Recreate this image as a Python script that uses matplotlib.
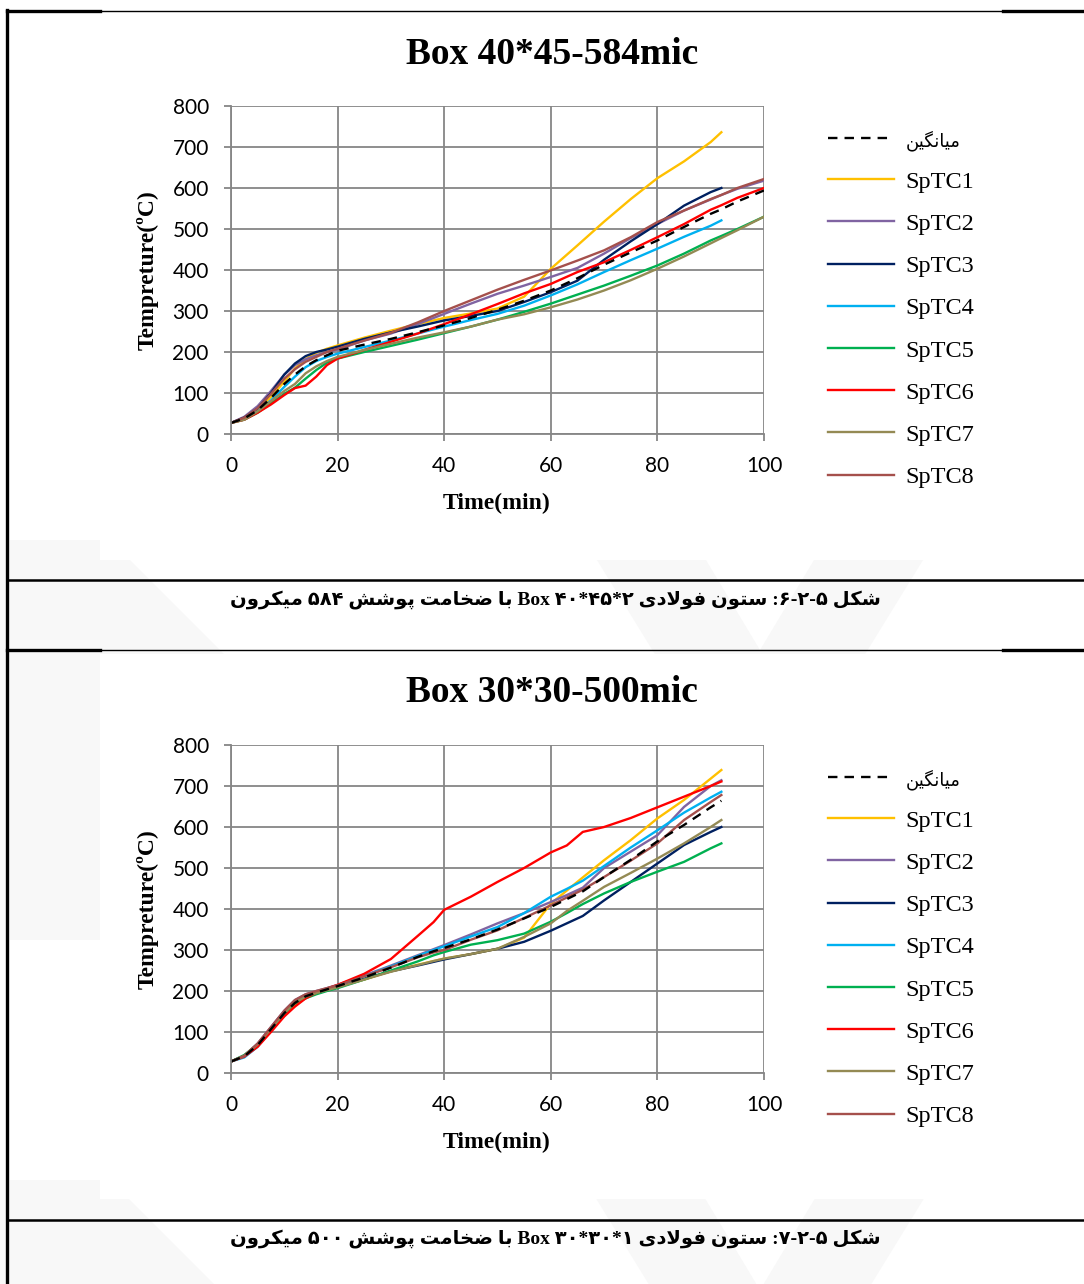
import matplotlib
matplotlib.use('Agg')
import matplotlib.pyplot as plt
from matplotlib.patches import Polygon
import numpy as np

W, H = 1084, 1284
nan = np.nan

# ---- data: chart 1 (Box 40*45-584mic) ----
t1 = [0, 2.5, 5, 7.5, 10, 12, 14, 16, 18, 20, 25, 30, 35, 40, 45, 50, 55, 60,
      65, 70, 75, 80, 85, 90, 92, 95, 100]
avg1 = [27, 38, 58, 88, 122, 145, 165, 180, 192, 203, 218, 232, 248, 265, 283, 303, 325, 350,
        380, 413, 443, 472, 505, 537, 548, 567, 594]
sptc1_1 = [27, 38, 58, 90, 128, 160, 183, 198, 208, 216, 235, 252, 268, 283, 294, 306, 335, 403,
           460, 518, 573, 624, 665, 712, 736, nan, nan]
sptc2_1 = [27, 42, 68, 105, 145, 168, 182, 192, 200, 206, 228, 245, 268, 293, 318, 342, 362, 383,
           405, 440, 478, 512, 545, 572, 583, 598, 618]
sptc3_1 = [27, 40, 62, 100, 145, 172, 190, 200, 206, 213, 232, 248, 262, 277, 288, 300, 322, 346,
           374, 425, 470, 512, 557, 590, 600, nan, nan]
sptc4_1 = [27, 36, 55, 82, 115, 140, 163, 178, 188, 196, 212, 228, 245, 262, 278, 293, 313, 338,
           365, 395, 424, 452, 481, 508, 521, nan, nan]
sptc5_1 = [27, 35, 52, 75, 98, 113, 135, 156, 174, 184, 200, 215, 230, 246, 262, 279, 298, 318,
           340, 362, 386, 411, 440, 472, 483, 500, 530]
sptc6_1 = [27, 35, 52, 72, 95, 112, 118, 140, 168, 184, 205, 225, 245, 268, 292, 317, 343, 366,
           395, 419, 449, 480, 512, 547, 558, 576, 600]
sptc7_1 = [27, 35, 55, 80, 105, 122, 148, 165, 178, 188, 205, 220, 235, 248, 262, 279, 292, 309,
           328, 350, 375, 403, 433, 465, 478, 497, 530]
sptc8_1 = [27, 40, 63, 98, 135, 158, 176, 188, 200, 208, 228, 247, 272, 300, 326, 352, 376, 399,
           423, 448, 480, 517, 545, 573, 583, 600, 622]

# ---- data: chart 2 (Box 30*30-500mic) ----
t2 = [0, 2.5, 5, 7.5, 10, 12, 14, 16, 18, 20, 25, 30, 35, 38, 40, 45, 50, 55, 60,
      63, 66, 70, 75, 80, 85, 90, 92]
avg2 = [28, 41, 68, 107, 146, 171, 187, 196, 204, 212, 233, 257, 283, 297, 305, 326, 350, 377, 405,
        424, 443, 478, 520, 565, 605, 648, 664]
sptc1_2 = [28, 40, 66, 104, 140, 165, 184, 194, 202, 210, 228, 248, 264, 273, 279, 290, 303, 330, 413,
           445, 477, 519, 568, 621, 666, 718, 739]
sptc2_2 = [28, 42, 72, 112, 152, 178, 192, 200, 207, 215, 238, 262, 287, 302, 312, 338, 365, 390, 417,
           434, 452, 500, 540, 580, 649, 700, 714]
sptc3_2 = [28, 42, 70, 110, 150, 176, 190, 197, 204, 211, 230, 248, 262, 271, 277, 290, 303, 320, 347,
           365, 383, 421, 466, 511, 556, 588, 600]
sptc4_2 = [28, 38, 64, 104, 145, 172, 188, 197, 205, 213, 236, 260, 285, 300, 309, 333, 356, 390, 430,
           449, 469, 505, 550, 592, 635, 672, 686]
sptc5_2 = [28, 44, 70, 108, 145, 170, 182, 192, 200, 207, 228, 250, 272, 287, 295, 313, 324, 340, 369,
           390, 412, 438, 466, 491, 515, 548, 560]
sptc6_2 = [28, 40, 64, 100, 138, 162, 182, 196, 206, 215, 242, 278, 334, 368, 398, 430, 466, 500, 538,
           555, 588, 600, 622, 648, 674, 700, 711]
sptc7_2 = [28, 42, 70, 108, 146, 172, 186, 195, 202, 209, 228, 247, 263, 273, 279, 290, 303, 332, 365,
           395, 420, 454, 488, 523, 560, 600, 617]
sptc8_2 = [28, 42, 72, 112, 152, 178, 192, 200, 207, 214, 236, 258, 282, 294, 300, 325, 348, 378, 409,
           428, 447, 478, 518, 560, 617, 661, 678]

series_names = ['SpTC1', 'SpTC2', 'SpTC3', 'SpTC4', 'SpTC5', 'SpTC6', 'SpTC7', 'SpTC8']
series_colors = ['#FFC000', '#8064A2', '#002060', '#00B0F0', '#00B050', '#FF0000', '#948A54', '#A5504C']
avg_label = 'میانگین'
titles = ['Box 40*45-584mic', 'Box 30*30-500mic']
# caption words in left-to-right display order
caption1 = ['میکرون', '۵۸۴', 'پوشش', 'ضخامت', 'با', 'Box', '۴۰*۴۵*۲', 'فولادی', 'ستون', ':۶-۲-۵', 'شکل']
caption2 = ['میکرون', '۵۰۰', 'پوشش', 'ضخامت', 'با', 'Box', '۳۰*۳۰*۱', 'فولادی', 'ستون', ':۷-۲-۵', 'شکل']

# simple Persian shaping (presentation forms), returns visual order
AR_FORMS = {
    'ا': ('\ufe8d', '\ufe8e', None, None),
    'ب': ('\ufe8f', '\ufe90', '\ufe91', '\ufe92'),
    'پ': ('\ufb56', '\ufb57', '\ufb58', '\ufb59'),
    'ت': ('\ufe95', '\ufe96', '\ufe97', '\ufe98'),
    'خ': ('\ufea5', '\ufea6', '\ufea7', '\ufea8'),
    'د': ('\ufea9', '\ufeaa', None, None),
    'ر': ('\ufead', '\ufeae', None, None),
    'س': ('\ufeb1', '\ufeb2', '\ufeb3', '\ufeb4'),
    'ش': ('\ufeb5', '\ufeb6', '\ufeb7', '\ufeb8'),
    'ض': ('\ufebd', '\ufebe', '\ufebf', '\ufec0'),
    'ف': ('\ufed1', '\ufed2', '\ufed3', '\ufed4'),
    'ک': ('\ufb8e', '\ufb8f', '\ufb90', '\ufb91'),
    'گ': ('\ufb92', '\ufb93', '\ufb94', '\ufb95'),
    'ل': ('\ufedd', '\ufede', '\ufedf', '\ufee0'),
    'م': ('\ufee1', '\ufee2', '\ufee3', '\ufee4'),
    'ن': ('\ufee5', '\ufee6', '\ufee7', '\ufee8'),
    'و': ('\ufeed', '\ufeee', None, None),
    'ی': ('\ufbfc', '\ufbfd', '\ufbfe', '\ufbff'),
}


def shape(word):
    if not any(c in AR_FORMS for c in word):
        return word
    out = []
    prev = False
    i = 0
    while i < len(word):
        c = word[i]
        if c == 'ل' and i + 1 < len(word) and word[i + 1] == 'ا':
            out.append('\ufefc' if prev else '\ufefb')
            prev = False
            i += 2
            continue
        iso, fin, ini, med = AR_FORMS[c]
        nxt = word[i + 1] if i + 1 < len(word) else None
        nj = ini is not None and nxt in AR_FORMS
        if prev and nj:
            g = med
        elif prev:
            g = fin
        elif nj:
            g = ini
        else:
            g = iso
        out.append(g)
        prev = nj
        i += 1
    return ''.join(reversed(out))


fig = plt.figure(figsize=(W / 100, H / 100), dpi=100)
fig.patch.set_facecolor('white')


def px(x, y):
    return x / W, 1 - y / H


# very faint watermark chevrons
wm = '#f8f8f8'
for yo in (0, 640):
    for pts in ([(0, 540), (110, 540), (290, 720), (290, 760), (110, 940), (0, 940)],
                [(560, 500), (670, 500), (760, 650), (850, 500), (960, 500), (800, 760), (720, 760)]):
        poly = Polygon([px(x, y + yo) for x, y in pts], closed=True, transform=fig.transFigure,
                       facecolor=wm, edgecolor='none', zorder=0)
        fig.patches.append(poly)


# table lines of the page
def hline(y, x0, x1, lw):
    fig.add_artist(plt.Line2D([x0 / W, x1 / W], [1 - y / H, 1 - y / H], color='black', lw=lw,
                              transform=fig.transFigure, zorder=1))


for y in (11, 650):
    hline(y, 7, 100, 2.4)
    hline(y, 100, 1003, 1.0)
    hline(y, 1003, 1084, 2.4)
hline(580, 7, 1084, 1.8)
hline(1220, 7, 1084, 1.8)
fig.add_artist(plt.Line2D([7 / W, 7 / W], [1 - 10 / H, 0], color='black', lw=2.4,
                          transform=fig.transFigure, zorder=1))

# white chart areas
for yo in (0, 639):
    fig.patches.append(plt.Rectangle(px(100, 560 + yo), 903 / W, 545 / H, transform=fig.transFigure,
                                     facecolor='white', edgecolor='none', zorder=0.5))

serif = ['Liberation Serif', 'DejaVu Sans']
charts = [
    (t1, avg1, [sptc1_1, sptc2_1, sptc3_1, sptc4_1, sptc5_1, sptc6_1, sptc7_1, sptc8_1], caption1),
    (t2, avg2, [sptc1_2, sptc2_2, sptc3_2, sptc4_2, sptc5_2, sptc6_2, sptc7_2, sptc8_2], caption2),
]

for k, (t, avg, series, caption) in enumerate(charts):
    yo = 639 * k
    top, bottom = 106 + yo, 434 + yo
    ax = fig.add_axes([231 / W, 1 - bottom / H, 533 / W, (bottom - top) / H])
    ax.set_zorder(2)
    handles = []
    for vals, name, col in zip(series, series_names, series_colors):
        ln, = ax.plot(t, vals, color=col, lw=1.7, label=name)
        handles.append(ln)
    la, = ax.plot(t, avg, color='black', lw=1.7, ls=(0, (4, 3)), label=shape(avg_label))
    handles = [la] + handles

    ax.set_xlim(0, 100)
    ax.set_ylim(0, 800)
    ax.set_xticks(range(0, 101, 20))
    ax.set_yticks(range(0, 801, 100))
    ax.grid(True, color='#868686', lw=1.3)
    ax.set_axisbelow(True)
    for s in ('top', 'right'):
        ax.spines[s].set_visible(False)
    for s in ('left', 'bottom'):
        ax.spines[s].set_color('#868686')
        ax.spines[s].set_linewidth(1.3)
    ax.tick_params(colors='#868686', length=5, width=1.3, pad=11, labelcolor='black')
    for lab in ax.get_xticklabels() + ax.get_yticklabels():
        lab.set_fontfamily('Lato')
        lab.set_fontsize(15)

    leg = ax.legend(handles, [h.get_label() for h in handles], loc='upper left',
                    bbox_to_anchor=px(828, 129 + yo), bbox_transform=fig.transFigure,
                    frameon=False, prop={'family': serif, 'size': 17.5}, handlelength=2.7,
                    handletextpad=0.5, labelspacing=0.83, borderpad=0, borderaxespad=0)
    leg.get_texts()[0].set_fontsize(13)

    fig.text(*px(552, 54 + yo), titles[k], ha='center', va='center', family=serif,
             fontsize=27, fontweight='bold')
    fig.text(*px(497, 503 + yo), 'Time(min)', ha='center', va='center', family=serif,
             fontsize=17, fontweight='bold')
    fig.text(*px(148, 270 + yo), 'Tempreture(ºC)', ha='center', va='center', rotation=90,
             family=serif, fontsize=17, fontweight='bold')
    fig.text(*px(555, 600 + yo), ' '.join(shape(w) for w in caption), ha='center', va='center',
             family=serif, fontsize=14, fontweight='bold', zorder=3)

fig.savefig('out.png', dpi=100)
